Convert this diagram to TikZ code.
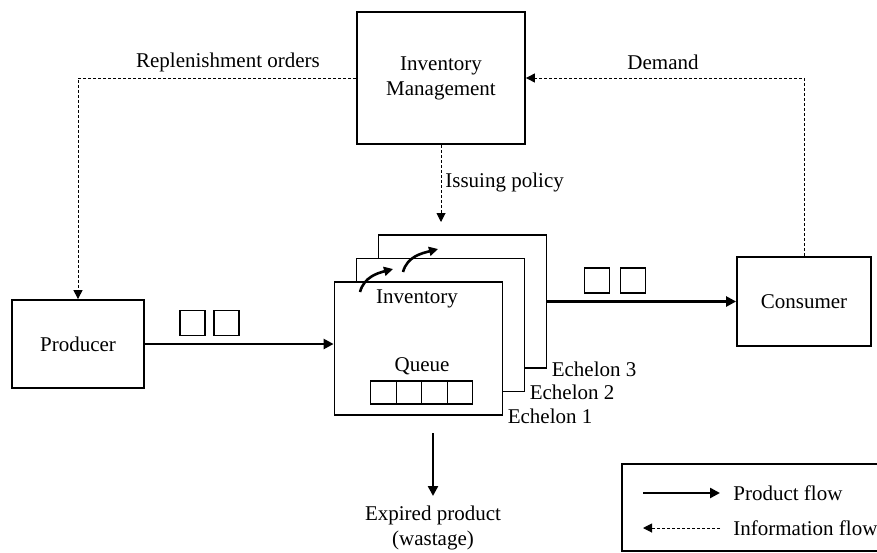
\documentclass[tikz,border=0pt]{standalone}
\usepackage{fontspec}
\setmainfont{Liberation Serif}
\usetikzlibrary{positioning, arrows.meta}
\tikzset{
block/.style={draw, line width=0.9pt, fill=white, align=center}, % the plain boxes
echelon/.style={block, minimum width=84pt, minimum height=66.5pt}, % one stacked stock box
unit/.style={draw, line width=0.8pt, minimum size=12.5pt, inner sep=0pt}, % a product on its way
cell/.style={draw, line width=0.6pt, minimum width=12.75pt, minimum height=11.5pt, inner sep=0pt}, % a queue slot
product/.style={line width=1.2pt, -{Triangle[length=5pt, width=5pt]}}, % product flow, solid and bold
info/.style={line width=0.5pt, dash pattern=on 1.5pt off 1pt, -{Triangle[length=4.5pt, width=4.5pt]}}, % information flow, dashed
}

\begin{document}
\begin{tikzpicture}[x=0.5pt, y=0.5pt, font=\fontsize{10.5}{12.5}\selectfont]
    \useasboundingbox (0,0) rectangle (877,-552);

    \node[block, minimum width=84pt, minimum height=66pt] (mgmt) at (441,-78) {Inventory\\Management};
    \node[block, minimum width=66pt, minimum height=44pt] (producer) at (78,-344) {Producer};
    \node[block, minimum width=67pt, minimum height=44.5pt] (consumer) at (804,-301.5) {Consumer};

    % stacked echelons, back to front
    \node[echelon] (ech3) at (462.5,-301.5) {};
    \node[echelon] (ech2) at (440.5,-325) {};
    \node[echelon] (ech1) at (418.5,-348.5) {};
    \node[inner sep=1pt, right=1pt of ech3.south east] (lab3) {Echelon 3};
    \node[inner sep=1pt, right=1pt of ech2.south east] (lab2) {Echelon 2};
    \node[inner sep=1pt, right=1pt of ech1.south east] (lab1) {Echelon 1};

    \node (invtxt) at (417,-299) {Inventory};
    \node (queuetxt) at (422,-366) {Queue};
    \foreach \i in {0,...,3}
        \node[cell] (q\i) at ({383.5+25.5*\i},-392.5) {};

    \draw[line width=1.3pt, -{Triangle[length=4.5pt, width=4.5pt]}] (360,-292) to[out=75, in=195] (393,-269);
    \draw[line width=1.3pt, -{Triangle[length=4.5pt, width=4.5pt]}] (403,-272) to[out=75, in=195] (438,-249);

    % products moving along
    \node[unit] (u1) at (192.5,-323) {};
    \node[unit] (u2) at (226.5,-323) {};
    \node[unit] (u3) at (597,-280.5) {};
    \node[unit] (u4) at (633,-280.5) {};

    \draw[product] (producer.east) -- (producer.east -| ech1.west);
    \draw[product] (ech3.east) -- (consumer.west);

    \coordinate (wtop) at (433,-433);
    \node[align=center, inner sep=5pt, anchor=north] (wastage) at (433,-496) {Expired product\\(wastage)};
    \draw[product] (wtop) -- (wastage.north);

    % information
    \node (repl) at (228,-62) {Replenishment orders};
    \node (demand) at (663,-62) {Demand};
    \coordinate (issue) at (441,-222);
    \node[anchor=west, inner sep=1pt] (issuing) at (443,-182) {Issuing policy};
    \draw[info] (mgmt.west) -| (producer.north);
    \draw[info] (consumer.north) |- (mgmt.east);
    \draw[info] (mgmt.south) -- (issue);

    % legend
    \node[draw, line width=0.9pt, anchor=north west, minimum width=140pt, minimum height=43.5pt] (legend) at (621,-463) {};
    \node[anchor=west, inner sep=1pt] (prodlab) at (731,-493) {Product flow};
    \node[anchor=west, inner sep=1pt] (infolab) at (731,-528) {Information flow};
    \coordinate (p0) at (643,-493);
    \coordinate (p1) at (720,-493);
    \coordinate (i0) at (720,-528);
    \coordinate (i1) at (643,-528);
    \draw[product] (p0) -- (p1);
    \draw[info] (i0) -- (i1);
\end{tikzpicture}
\end{document}
